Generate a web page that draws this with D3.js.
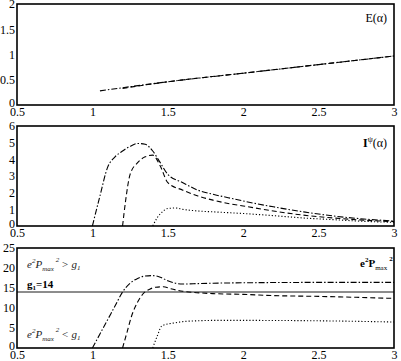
<!DOCTYPE html>
<html>
<head>
<meta charset="utf-8">
<script src="https://cdn.jsdelivr.net/npm/d3@7"></script>
<style>
  body { margin: 0; background: #fff; }
  svg, svg text { font-family: "Liberation Serif", "DejaVu Serif", serif; }
  .axis text { font-size: 12px; fill: #000; font-family: "Liberation Serif", serif; }
</style>
</head>
<body>
<div id="svg-container"></div>
<script>
////////////////////////////  Data  ////////////////////////////
const xTicks = [0.5, 1, 1.5, 2, 2.5, 3];

// panel 1 : E(alpha)
const eTicks = [0, 0.5, 1, 1.5, 2];
const eDashDotA = [1.05, 1.5, 2, 2.5, 3];
const eDashDotV = [0.28, 0.46, 0.63, 0.8, 0.97];
const eDashA = [1.2, 1.5, 2, 2.5, 3];
const eDashV = [0.33, 0.46, 0.63, 0.8, 0.97];

// panel 2 : I^psi(alpha)
const iTicks = [0, 1, 2, 3, 4, 5, 6];
const iDashDotA = [1.0, 1.05, 1.1, 1.15, 1.2, 1.25, 1.3, 1.35, 1.4, 1.45, 1.5, 1.6, 1.7, 1.8, 1.9, 2.0, 2.2, 2.4, 2.6, 2.8, 3.0];
const iDashDotV = [0, 1.8, 3.5, 4.15, 4.5, 4.78, 4.95, 4.9, 4.5, 3.8, 3.1, 2.6, 2.15, 1.9, 1.7, 1.5, 1.15, 0.85, 0.6, 0.42, 0.3];
const iDashA = [1.2, 1.22, 1.25, 1.3, 1.35, 1.4, 1.45, 1.5, 1.6, 1.7, 1.8, 1.9, 2.0, 2.2, 2.4, 2.6, 2.8, 3.0];
const iDashV = [0, 1.5, 3.1, 3.8, 4.15, 4.25, 3.6, 2.6, 2.15, 1.8, 1.55, 1.35, 1.2, 0.9, 0.65, 0.48, 0.35, 0.26];
const iDotA = [1.4, 1.43, 1.47, 1.5, 1.55, 1.6, 1.7, 1.8, 1.9, 2.0, 2.2, 2.4, 2.6, 2.8, 3.0];
const iDotV = [0, 0.5, 0.9, 1.05, 1.08, 1.0, 0.9, 0.85, 0.8, 0.75, 0.62, 0.48, 0.38, 0.28, 0.22];

// panel 3 : e^2 Pmax^2
const pTicks = [0, 5, 10, 15, 20, 25];
const g1 = 14;
const pDashDotA = [1.0, 1.05, 1.1, 1.15, 1.2, 1.25, 1.3, 1.35, 1.4, 1.45, 1.5, 1.55, 1.6, 1.7, 1.8, 2.0, 2.5, 3.0];
const pDashDotV = [0, 3.5, 7, 10.5, 14, 16.2, 17.4, 18, 18.1, 17.7, 16.8, 16.2, 16.0, 16.1, 16.2, 16.3, 16.4, 16.4];
const pDashA = [1.2, 1.23, 1.26, 1.3, 1.34, 1.38, 1.42, 1.47, 1.52, 1.6, 1.67, 1.8, 2.0, 2.2, 2.5, 3.0];
const pDashV = [0, 4, 8, 11.5, 13.7, 14.7, 15.2, 15.3, 14.8, 14.2, 13.9, 13.6, 13.4, 13.1, 12.9, 12.4];
const pDotA = [1.4, 1.43, 1.46, 1.5, 1.55, 1.6, 1.7, 1.8, 2.0, 2.5, 3.0];
const pDotV = [0, 3, 5.5, 6.0, 6.3, 6.6, 6.8, 6.9, 6.9, 6.8, 6.5];

////////////////////////////  Init  ////////////////////////////
const width = 401, height = 361;
const svg = d3.select("#svg-container").append("svg")
  .attr("width", width).attr("height", height);

const left = 17, right = 394;
const xScale = d3.scaleLinear().domain([0.5, 3]).range([left, right]);

const styles = {
  dashdot: "6,2,1.5,2",
  dash: "5,3",
  dot: "1.2,2"
};

const zip = (a, v) => a.map((d, i) => ({ a: d, v: v[i] }));

function panel(top, bottom, yMax, yTicks, series) {
  const yScale = d3.scaleLinear().domain([0, yMax]).range([bottom, top]);
  const g = svg.append("g");

  // axes (labels only)
  g.append("g").attr("class", "axis")
    .attr("transform", `translate(${left},0)`)
    .call(d3.axisLeft(yScale).tickValues(yTicks).tickSize(0).tickPadding(2)
      .tickFormat(d3.format("~g")))
    .call((s) => s.attr("font-family", null).attr("font-size", null))
    .call((s) => s.select(".domain").remove())
    .call((s) => s.selectAll("text").filter((d) => d === 0).attr("dy", "0.1em"));

  g.append("g").attr("class", "axis")
    .attr("transform", `translate(0,${bottom})`)
    .call(d3.axisBottom(xScale).tickValues(xTicks).tickSize(0).tickPadding(2)
      .tickFormat(d3.format("~g")))
    .call((s) => s.attr("font-family", null).attr("font-size", null))
    .call((s) => s.select(".domain").remove());

  const line = d3.line()
    .curve(d3.curveMonotoneX)
    .x((d) => xScale(d.a))
    .y((d) => yScale(d.v));

  series.forEach((s) => {
    g.append("path")
      .datum(zip(s.a, s.v))
      .attr("fill", "none")
      .attr("stroke", "#000")
      .attr("stroke-width", 1.1)
      .attr("stroke-dasharray", styles[s.style])
      .attr("d", line);
  });

  // frame
  g.append("rect")
    .attr("x", left).attr("y", top)
    .attr("width", right - left).attr("height", bottom - top)
    .attr("fill", "none").attr("stroke", "#000").attr("stroke-width", 1.6);

  return { g, yScale };
}

// panel 1
const p1 = panel(4, 105, 2, eTicks, [
  { a: eDashDotA, v: eDashDotV, style: "dashdot" },
  { a: eDashA, v: eDashV, style: "dash" }
]);
p1.g.append("text").attr("x", 387).attr("y", 22).attr("text-anchor", "end")
  .attr("font-size", 12).text("E(α)");

// panel 2
const p2 = panel(126, 226, 6, iTicks, [
  { a: iDashDotA, v: iDashDotV, style: "dashdot" },
  { a: iDashA, v: iDashV, style: "dash" },
  { a: iDotA, v: iDotV, style: "dot" }
]);
const iLab = p2.g.append("text").attr("x", 387).attr("y", 147).attr("text-anchor", "end")
  .attr("font-size", 12);
iLab.append("tspan").attr("font-weight", "bold").text("I");
iLab.append("tspan").attr("font-size", 8).attr("dy", -5).text("ψ");
iLab.append("tspan").attr("dy", 5).text("(α)");

// panel 3
const p3 = panel(248, 348, 25, pTicks, [
  { a: pDashDotA, v: pDashDotV, style: "dashdot" },
  { a: pDashA, v: pDashV, style: "dash" },
  { a: pDotA, v: pDotV, style: "dot" }
]);
p3.g.append("line")
  .attr("x1", left).attr("x2", right)
  .attr("y1", p3.yScale(g1)).attr("y2", p3.yScale(g1))
  .attr("stroke", "#000").attr("stroke-width", 0.9);

function ePmax(t, x, y, rel) {
  t.attr("x", x).attr("y", y).attr("font-size", 11).attr("font-style", "italic").attr("fill", "#222");
  t.append("tspan").text("e");
  t.append("tspan").attr("font-size", 7).attr("dy", -5).text("2");
  t.append("tspan").attr("dy", 5).text("P");
  t.append("tspan").attr("font-size", 7).attr("dy", 3).text("max");
  t.append("tspan").attr("font-size", 7).attr("dy", -9).attr("dx", 2).text("2");
  t.append("tspan").attr("dy", 6).attr("dx", 2).text(rel + " g");
  t.append("tspan").attr("font-size", 7).attr("dy", 2).text("1");
}
ePmax(p3.g.append("text"), 27, 268, ">");
ePmax(p3.g.append("text"), 27, 338, "<");

const gLab = p3.g.append("text").attr("x", 27).attr("y", 288)
  .attr("font-size", 11).attr("font-weight", "bold");
gLab.append("tspan").text("g");
gLab.append("tspan").attr("font-size", 7).attr("dy", 2).text("1");
gLab.append("tspan").attr("dy", -2).text("=14");

const pLab = p3.g.append("text").attr("x", 360).attr("y", 267)
  .attr("font-size", 11).attr("font-weight", "bold");
pLab.append("tspan").text("e");
pLab.append("tspan").attr("font-size", 7).attr("dy", -5).text("2");
pLab.append("tspan").attr("dy", 5).text("P");
pLab.append("tspan").attr("font-size", 7).attr("dy", 3).attr("font-weight", "normal").text("max");
pLab.append("tspan").attr("font-size", 7).attr("dy", -9).attr("dx", 2).text("2");
</script>
</body>
</html>
